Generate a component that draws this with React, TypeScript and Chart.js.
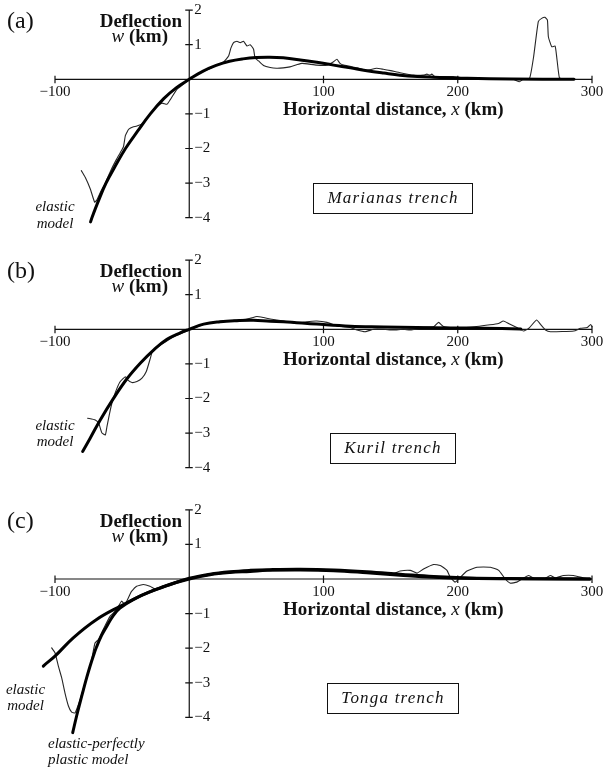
import React, { useEffect, useRef } from 'react';
import { Chart, registerables } from 'chart.js';

Chart.register(...registerables);

// ---------- axis ticks ----------
const xTickValues = [-100, 100, 200, 300];
const xTickLabels = ['\u2212100', '100', '200', '300'];
const yTickValues = [2, 1, -1, -2, -3, -4];
const yTickLabels = ['2', '1', '\u22121', '\u22122', '\u22123', '\u22124'];

// ---------- (a) Marianas trench ----------
const marianasModelX = [-73.5, -72.5, -67.5, -62, -55, -47.5, -38.5, -29, -19, -9.5, 0, 10, 20, 30, 40, 50, 60, 70, 82.7, 95, 107.5, 120, 132.3, 145, 157, 170, 182, 207, 240, 286.6];
const marianasModelY = [-4.12, -4.0, -3.5, -3.0, -2.5, -2.0, -1.5, -1.0, -0.56, -0.24, 0, 0.23, 0.4, 0.52, 0.59, 0.63, 0.64, 0.62, 0.56, 0.49, 0.41, 0.33, 0.25, 0.18, 0.12, 0.08, 0.06, 0.03, 0.01, 0.0];
const marianasDataX = [-80.4, -77.4, -73.7, -70.5, -69, -66, -62, -58, -54, -51.4, -49, -47.6, -46, -45, -42, -39, -35, -30, -25, -20.3, -16.6, -14, -9.2, -4.2, 0, 5, 10, 15, 20, 25.6, 29.3, 31, 33, 35.5, 38, 40.4, 43, 45.4, 47.9, 49, 51.6, 55.3, 60.3, 65, 70, 75, 80, 84, 95, 102.4, 107.5, 110, 112.3, 115, 125, 132, 139.5, 144.5, 150, 157, 167, 174.4, 177, 179.3, 180.6, 183, 196.6, 201.6, 219, 241, 246, 248.6, 253.5, 256.5, 260, 262.5, 265, 266.8, 267.5, 270, 272.5, 273.7, 275.7, 278.7, 285];
const marianasDataY = [-2.64, -2.84, -3.17, -3.55, -3.5, -3.25, -2.95, -2.6, -2.3, -2.12, -1.95, -1.63, -1.5, -1.44, -1.38, -1.35, -1.28, -1.05, -0.82, -0.69, -0.72, -0.58, -0.29, -0.14, 0, 0.12, 0.22, 0.3, 0.4, 0.5, 0.67, 0.9, 1.06, 1.1, 1.06, 1.1, 0.96, 1.0, 0.87, 0.62, 0.53, 0.4, 0.34, 0.32, 0.33, 0.36, 0.42, 0.46, 0.41, 0.41, 0.51, 0.58, 0.46, 0.41, 0.33, 0.26, 0.32, 0.29, 0.25, 0.19, 0.12, 0.12, 0.15, 0.12, 0.15, 0.08, 0.08, 0.05, 0.01, 0.0, -0.07, 0.0, 0.03, 0.65, 1.67, 1.76, 1.79, 1.71, 1.23, 0.94, 0.96, 0.65, 0.05, 0.0, 0.0];

// ---------- (b) Kuril trench ----------
const kurilModelX = [-79.4, -73.7, -66.3, -56.3, -46.4, -36.5, -26.6, -16.6, -6.7, 0, 10.7, 23, 35.5, 47.9, 60.3, 70.2, 95, 120, 144.8, 169.6, 194.4, 219, 247];
const kurilModelY = [-3.53, -3.14, -2.62, -1.99, -1.43, -0.98, -0.6, -0.29, -0.1, 0, 0.15, 0.22, 0.25, 0.26, 0.23, 0.22, 0.15, 0.09, 0.07, 0.05, 0.04, 0.03, 0.01];
const kurilDataX = [-75.7, -70, -67.5, -65, -62.5, -61.3, -59.3, -57.6, -56.3, -53.8, -51.4, -47.6, -45.9, -42.7, -39, -35.2, -32, -29, -27.8, -26.5, -20, -12, -6, 0, 5, 10.7, 20, 30, 40, 45.4, 50.4, 55.4, 60.3, 70.2, 80, 87.6, 95, 102.6, 110, 120, 125, 131, 137.4, 144.8, 152, 159.7, 164.6, 174.5, 182, 185.7, 189.4, 199.3, 214, 224, 230.3, 234, 237.8, 244, 249, 253, 258.7, 261.7, 265.4, 269, 286.5, 291.5, 296.5, 299, 300];
const kurilDataY = [-2.57, -2.62, -2.71, -3.0, -3.05, -2.81, -2.42, -2.13, -1.96, -1.7, -1.51, -1.37, -1.46, -1.54, -1.51, -1.41, -1.22, -0.84, -0.67, -0.6, -0.42, -0.22, -0.12, -0.02, 0.06, 0.14, 0.22, 0.25, 0.28, 0.32, 0.37, 0.34, 0.3, 0.24, 0.17, 0.22, 0.24, 0.2, 0.1, 0.05, -0.02, -0.07, 0.0, 0.0, -0.02, 0.0, -0.02, 0.05, 0.07, 0.2, 0.08, 0.03, 0.08, 0.13, 0.17, 0.24, 0.17, 0.05, -0.05, 0.03, 0.27, 0.14, -0.02, -0.07, -0.05, 0.03, 0.05, 0.14, 0.07];

// ---------- (c) Tonga trench ----------
const tongaElasticX = [-117, -108.7, -100, -86.4, -69, -51.6, -34.2, -16.9, 0, 15.4, 30.3, 45.4, 58, 82.7, 107.5, 132.3, 157, 182, 207, 250, 298.5];
const tongaElasticY = [-2.88, -2.52, -2.23, -1.7, -1.17, -0.79, -0.45, -0.19, 0, 0.125, 0.19, 0.22, 0.25, 0.26, 0.24, 0.18, 0.11, 0.05, 0.02, 0.005, 0.0];
const tongaPlasticX = [-86.8, -83.9, -81.4, -78.9, -76.4, -73.9, -71.5, -69, -65.3, -61.5, -56.6, -51.6, -40, -30, -17, 0, 15.4, 30.3, 45.4, 60, 82.7, 107.5, 132.3, 157, 182, 207, 250, 298.5];
const tongaPlasticY = [-4.44, -3.96, -3.58, -3.21, -2.85, -2.52, -2.23, -1.96, -1.63, -1.37, -1.06, -0.84, -0.56, -0.38, -0.2, 0.02, 0.14, 0.21, 0.25, 0.27, 0.28, 0.26, 0.21, 0.14, 0.07, 0.03, 0.01, 0.0];
const tongaDataX = [-108.2, -106.2, -104.2, -102.5, -100, -97.5, -95, -92.6, -90, -87.6, -85.1, -83.9, -81, -78, -75.2, -72.7, -70.2, -67.7, -64, -59, -54, -50.4, -47.9, -44.2, -43, -39.2, -34.2, -29.3, -24.3, -20.6, -14.4, -6.9, 0, 10, 20, 30, 45, 60, 80, 100, 120, 140, 152, 157, 164.6, 169.6, 174.5, 182, 187, 192, 194.4, 198, 200.7, 206.9, 214.3, 224.3, 230.5, 235.4, 239.1, 244, 247.8, 252.8, 257.7, 264, 269, 272.6, 278.8, 286.2, 293.7, 298.7];
const tongaDataY = [-1.32, -1.61, -1.85, -1.99, -2.13, -2.52, -2.86, -3.29, -3.67, -3.85, -3.87, -3.77, -3.45, -3.05, -2.71, -2.33, -1.85, -1.75, -1.45, -1.08, -0.88, -0.64, -0.74, -0.45, -0.36, -0.21, -0.16, -0.21, -0.31, -0.21, -0.12, -0.04, 0, 0.09, 0.16, 0.2, 0.24, 0.26, 0.27, 0.25, 0.22, 0.17, 0.15, 0.23, 0.25, 0.17, 0.29, 0.42, 0.39, 0.25, 0.05, -0.09, 0.0, 0.23, 0.34, 0.34, 0.25, 0.0, -0.12, -0.09, 0.0, 0.1, 0.0, 0.0, 0.1, 0.03, 0.1, 0.1, 0.03, 0.0];

const SERIF = '"Liberation Serif", "Times New Roman", serif';

type Curve = { xs: number[]; ys: number[]; thick: boolean };
type Note = { lines: string[]; x: number; ys: number[]; align: CanvasTextAlign };
type PanelCfg = {
  letter: string;
  trench: string;
  top: number;
  height: number;
  padTop: number;
  padBottom: number;
  curves: Curve[];
  notes: Note[];
};

const panels: PanelCfg[] = [
  {
    letter: '(a)', trench: 'Marianas trench', top: 0, height: 250, padTop: 10.1, padBottom: 32.3,
    curves: [
      { xs: marianasModelX, ys: marianasModelY, thick: true },
      { xs: marianasDataX, ys: marianasDataY, thick: false },
    ],
    notes: [{ lines: ['elastic', 'model'], x: 55, ys: [207.5, 224], align: 'center' }],
  },
  {
    letter: '(b)', trench: 'Kuril trench', top: 250, height: 250, padTop: 10.1, padBottom: 32.3,
    curves: [
      { xs: kurilModelX, ys: kurilModelY, thick: true },
      { xs: kurilDataX, ys: kurilDataY, thick: false },
    ],
    notes: [{ lines: ['elastic', 'model'], x: 55, ys: [176, 192.5], align: 'center' }],
  },
  {
    letter: '(c)', trench: 'Tonga trench', top: 500, height: 268, padTop: 9.8, padBottom: 50.6,
    curves: [
      { xs: tongaElasticX, ys: tongaElasticY, thick: true },
      { xs: tongaPlasticX, ys: tongaPlasticY, thick: true },
      { xs: tongaDataX, ys: tongaDataY, thick: false },
    ],
    notes: [
      { lines: ['elastic', 'model'], x: 25.5, ys: [190.5, 206.5], align: 'center' },
      { lines: ['elastic-perfectly', 'plastic model'], x: 48, ys: [244, 260], align: 'left' },
    ],
  },
];

type Run = { t: string; f: string };
function drawRuns(ctx: CanvasRenderingContext2D, runs: Run[], x: number, y: number, align: 'left' | 'right') {
  let total = 0;
  const widths = runs.map((r) => {
    ctx.font = r.f;
    const w = ctx.measureText(r.t).width;
    total += w;
    return w;
  });
  let cx = align === 'left' ? x : x - total;
  ctx.textAlign = 'left';
  runs.forEach((r, i) => {
    ctx.font = r.f;
    ctx.fillText(r.t, cx, y);
    cx += widths[i];
  });
}

function makePlugin(cfg: PanelCfg) {
  return {
    id: 'axesAndText' + cfg.letter,
    beforeDatasetsDraw(chart: any) {
      const ctx: CanvasRenderingContext2D = chart.ctx;
      const xs = chart.scales.x;
      const ys = chart.scales.y;
      const x0 = xs.getPixelForValue(0);
      const y0 = ys.getPixelForValue(0);
      ctx.save();
      ctx.strokeStyle = '#111';
      ctx.lineWidth = 1.2;
      ctx.beginPath();
      ctx.moveTo(xs.getPixelForValue(-100), y0);
      ctx.lineTo(xs.getPixelForValue(300), y0);
      ctx.moveTo(x0, ys.getPixelForValue(2));
      ctx.lineTo(x0, ys.getPixelForValue(-4));
      xTickValues.forEach((v) => {
        const p = xs.getPixelForValue(v);
        ctx.moveTo(p, y0 - 3.5);
        ctx.lineTo(p, y0 + 4);
      });
      yTickValues.forEach((v) => {
        const p = ys.getPixelForValue(v);
        ctx.moveTo(x0 - 4, p);
        ctx.lineTo(x0 + 3.5, p);
      });
      ctx.stroke();
      ctx.restore();
    },
    afterDraw(chart: any) {
      const ctx: CanvasRenderingContext2D = chart.ctx;
      const xs = chart.scales.x;
      const ys = chart.scales.y;
      const x0 = xs.getPixelForValue(0);
      const y0 = ys.getPixelForValue(0);
      ctx.save();
      ctx.fillStyle = '#111';
      // tick labels
      ctx.font = `15px ${SERIF}`;
      ctx.textBaseline = 'middle';
      ctx.textAlign = 'center';
      xTickValues.forEach((v, i) => {
        ctx.fillText(xTickLabels[i], xs.getPixelForValue(v), y0 + 13);
      });
      ctx.textAlign = 'left';
      yTickValues.forEach((v, i) => {
        ctx.fillText(yTickLabels[i], x0 + 5, ys.getPixelForValue(v));
      });
      // panel letter
      ctx.font = `24px ${SERIF}`;
      ctx.textAlign = 'left';
      ctx.fillText(cfg.letter, 7, 22);
      // y title
      ctx.textBaseline = 'alphabetic';
      drawRuns(ctx, [{ t: 'Deflection', f: `bold 19px ${SERIF}` }], 182, 27, 'right');
      drawRuns(ctx, [
        { t: 'w ', f: `italic 19px ${SERIF}` },
        { t: '(km)', f: `bold 19px ${SERIF}` },
      ], 168, 42, 'right');
      // x title
      drawRuns(ctx, [
        { t: 'Horizontal distance, ', f: `bold 19px ${SERIF}` },
        { t: 'x', f: `italic 19px ${SERIF}` },
        { t: ' (km)', f: `bold 19px ${SERIF}` },
      ], 283, y0 + 36, 'left');
      // notes
      ctx.font = `italic 15px ${SERIF}`;
      ctx.textBaseline = 'middle';
      cfg.notes.forEach((n) => {
        ctx.textAlign = n.align;
        n.lines.forEach((l, i) => ctx.fillText(l, n.x, n.ys[i]));
      });
      // trench box
      ctx.font = `italic 17px ${SERIF}`;
      (ctx as any).letterSpacing = '1.2px';
      const tw = ctx.measureText(cfg.trench).width;
      const bw = tw + 28;
      const bh = 30;
      const cx = 393;
      const cy = 198;
      ctx.strokeStyle = '#111';
      ctx.lineWidth = 1;
      ctx.strokeRect(Math.round(cx - bw / 2) + 0.5, Math.round(cy - bh / 2) + 0.5, Math.round(bw), bh);
      ctx.textAlign = 'left';
      ctx.textBaseline = 'middle';
      ctx.fillText(cfg.trench, cx - tw / 2, cy + 1);
      (ctx as any).letterSpacing = '0px';
      ctx.restore();
    },
  };
}

function Panel({ cfg }: { cfg: PanelCfg }) {
  const ref = useRef<HTMLCanvasElement>(null);
  useEffect(() => {
    if (!ref.current) return;
    const datasets = cfg.curves.map((c) => ({
      data: c.xs.map((x, i) => ({ x, y: c.ys[i] })),
      borderColor: c.thick ? '#000' : '#262626',
      borderWidth: c.thick ? 3 : 1.1,
      pointRadius: 0,
      tension: c.thick ? 0.4 : 0.15,
      clip: false as const,
      order: c.thick ? 0 : 1,
      borderCapStyle: 'round' as const,
      borderJoinStyle: 'round' as const,
      fill: false,
    }));
    const chart = new Chart(ref.current, {
      type: 'line',
      data: { datasets },
      options: {
        animation: false,
        responsive: false,
        maintainAspectRatio: false,
        layout: { padding: { left: 55, right: 15, top: cfg.padTop, bottom: cfg.padBottom } },
        plugins: { legend: { display: false }, tooltip: { enabled: false } },
        scales: {
          x: { type: 'linear', min: -100, max: 300, display: false },
          y: { type: 'linear', min: -4, max: 2, display: false },
        },
      },
      plugins: [makePlugin(cfg)],
    });
    return () => chart.destroy();
  }, [cfg]);
  return (
    <canvas
      ref={ref}
      width={607}
      height={cfg.height}
      style={{ position: 'absolute', left: 0, top: cfg.top, width: 607, height: cfg.height }}
    />
  );
}

export default function App() {
  return (
    <div style={{ position: 'absolute', left: 0, top: 0, width: 607, height: 768, background: '#fff', overflow: 'hidden' }}>
      {panels.map((p) => (
        <Panel key={p.letter} cfg={p} />
      ))}
    </div>
  );
}
